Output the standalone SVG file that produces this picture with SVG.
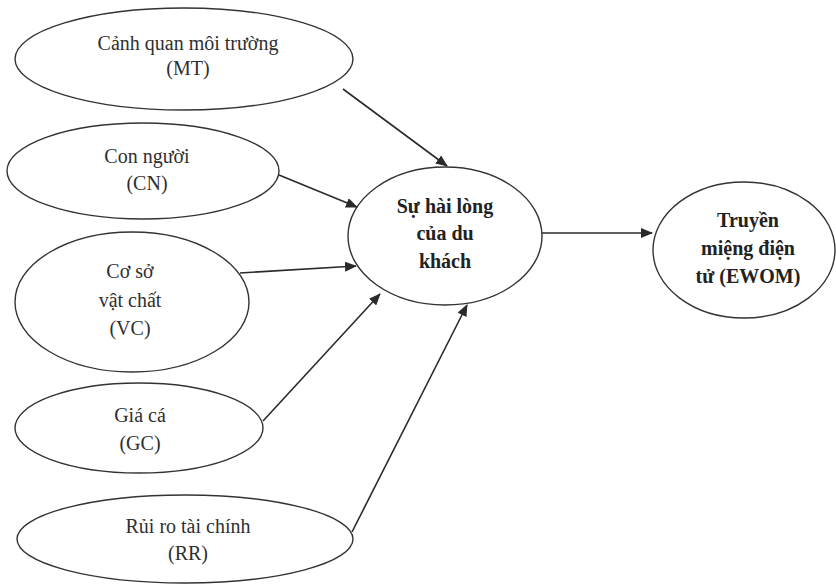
<svg xmlns="http://www.w3.org/2000/svg" width="836" height="586" viewBox="0 0 836 586">
<style>
.node ellipse{fill:none;stroke:#333;stroke-width:1.4}
.t{font-family:"Liberation Serif","Times New Roman",serif;font-size:20px;fill:#2f2f2f;text-anchor:middle}
.b{font-weight:bold;fill:#222}
.edge{stroke:#2a2a2a;stroke-width:1.6;fill:none;marker-end:url(#ah)}
</style>
<defs>
<marker id="ah" viewBox="0 0 12 10" refX="11" refY="5" markerWidth="12" markerHeight="10" markerUnits="userSpaceOnUse" orient="auto">
<path d="M0,0 L12,5 L0,10 Z" fill="#2a2a2a"/>
</marker>
</defs>
<rect width="836" height="586" fill="#fff"/>
<g id="MT" class="node">
<ellipse cx="184" cy="59" rx="169" ry="51"/>
<text class="t" x="188" y="50">Cảnh quan môi trường</text>
<text class="t" x="188" y="75">(MT)</text>
</g>
<g id="CN" class="node">
<ellipse cx="143" cy="171" rx="136" ry="48"/>
<text class="t" x="147" y="163">Con người</text>
<text class="t" x="147" y="190">(CN)</text>
</g>
<g id="VC" class="node">
<ellipse cx="132" cy="302" rx="117" ry="70"/>
<text class="t" x="130" y="278">Cơ sở</text>
<text class="t" x="130" y="307">vật chất</text>
<text class="t" x="130" y="335">(VC)</text>
</g>
<g id="GC" class="node">
<ellipse cx="139" cy="428" rx="124" ry="45"/>
<text class="t" x="140" y="422">Giá cá</text>
<text class="t" x="140" y="450">(GC)</text>
</g>
<g id="RR" class="node">
<ellipse cx="185" cy="539" rx="168" ry="44"/>
<text class="t" x="188" y="533">Rủi ro tài chính</text>
<text class="t" x="188" y="560">(RR)</text>
</g>
<g id="HL" class="node">
<ellipse cx="445" cy="236" rx="97" ry="69"/>
<text class="t b" x="445" y="213">Sự hài lòng</text>
<text class="t b" x="445" y="240">của du</text>
<text class="t b" x="445" y="268">khách</text>
</g>
<g id="EWOM" class="node">
<ellipse cx="744" cy="250" rx="91" ry="68"/>
<text class="t b" x="748" y="227">Truyền</text>
<text class="t b" x="748" y="255">miệng điện</text>
<text class="t b" x="748" y="283">tử (EWOM)</text>
</g>
<g id="connectors">
<line class="edge" x1="343" y1="89" x2="447" y2="166"/>
<line class="edge" x1="279" y1="175" x2="357" y2="207"/>
<line class="edge" x1="240" y1="273" x2="356" y2="266"/>
<line class="edge" x1="263" y1="421" x2="380" y2="294"/>
<line class="edge" x1="352" y1="532" x2="467" y2="305"/>
<line class="edge" x1="542" y1="233" x2="652" y2="233"/>
</g>
</svg>
